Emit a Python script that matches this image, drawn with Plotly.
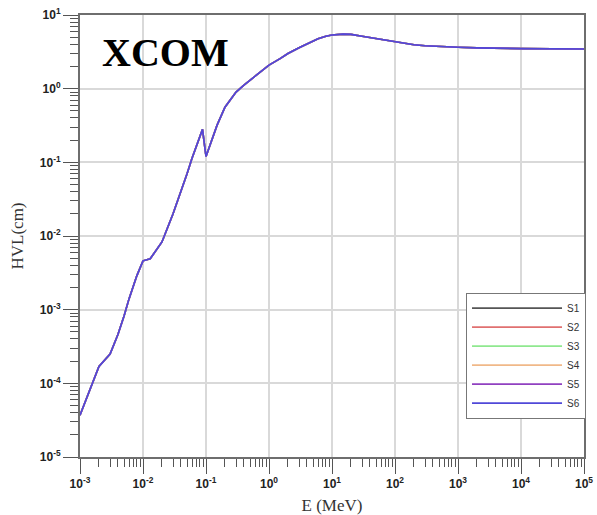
import plotly.graph_objects as go

# Photon energy (MeV)
energy = [1e-3, 1.5e-3, 2e-3, 3e-3, 4e-3, 5e-3, 6e-3, 8e-3, 1e-2, 1.3e-2, 1.52e-2,
          1.59e-2, 2e-2, 3e-2, 4e-2, 5e-2, 6e-2, 8e-2, 0.088, 0.1, 0.15, 0.2, 0.3,
          0.4, 0.5, 0.6, 0.8, 1, 1.5, 2, 3, 4, 5, 6, 8, 10, 15, 20, 30, 40, 50, 60,
          80, 100, 150, 200, 300, 400, 500, 600, 800, 1000, 2000, 5000, 1e4, 1e5]

# HVL (cm); all six samples overlap
hvl_s1 = [3.7e-5, 9.3e-5, 1.7e-4, 2.5e-4, 4.6e-4, 8.2e-4, 1.4e-3, 2.9e-3, 4.6e-3,
          4.9e-3, 6.0e-3, 6.3e-3, 8.3e-3, 2.0e-2, 4.0e-2, 7.0e-2, 0.114, 0.224,
          0.28, 0.12, 0.32, 0.56, 0.90, 1.12, 1.31, 1.48, 1.8, 2.09, 2.56, 3.0,
          3.6, 4.05, 4.45, 4.75, 5.15, 5.35, 5.5, 5.45, 5.15, 4.95, 4.78, 4.63,
          4.42, 4.26, 4.05, 3.95, 3.83, 3.77, 3.73, 3.70, 3.67, 3.65, 3.58, 3.52,
          3.50, 3.46]
hvl_s2 = list(hvl_s1)
hvl_s3 = list(hvl_s1)
hvl_s4 = list(hvl_s1)
hvl_s5 = list(hvl_s1)
hvl_s6 = list(hvl_s1)

series_names = ["S1", "S2", "S3", "S4", "S5", "S6"]
series_values = [hvl_s1, hvl_s2, hvl_s3, hvl_s4, hvl_s5, hvl_s6]
series_colors = ["#555555", "#e07070", "#8fe88f", "#f0b888", "#9040c0", "#5048d8"]

x_tickvals = [1e-3, 1e-2, 1e-1, 1, 10, 100, 1000, 1e4, 1e5]
x_ticktext = ["10<sup>-3</sup>", "10<sup>-2</sup>", "10<sup>-1</sup>", "10<sup>0</sup>",
              "10<sup>1</sup>", "10<sup>2</sup>", "10<sup>3</sup>", "10<sup>4</sup>",
              "10<sup>5</sup>"]
y_tickvals = [1e-5, 1e-4, 1e-3, 1e-2, 1e-1, 1, 10]
y_ticktext = ["10<sup>-5</sup>", "10<sup>-4</sup>", "10<sup>-3</sup>", "10<sup>-2</sup>",
              "10<sup>-1</sup>", "10<sup>0</sup>", "10<sup>1</sup>"]

fig = go.Figure()
for name, vals, col in zip(series_names, series_values, series_colors):
    fig.add_trace(go.Scatter(x=energy, y=vals, mode="lines", name=name,
                             line=dict(color=col, width=1.6)))

axis_common = dict(
    showline=True, linecolor="#6e6e6e", linewidth=2, mirror=True,
    showgrid=True, gridcolor="#d9d9d9", gridwidth=1.5,
    ticks="outside", ticklen=15, tickwidth=1.2, tickcolor="#555555",
    tickfont=dict(family="Arial, Liberation Sans", size=12, color="#222222", weight="bold"),
    minor=dict(ticks="outside", ticklen=8, tickwidth=1.2, tickcolor="#555555",
               dtick="D1", showgrid=False),
    zeroline=False, automargin=False,
)

fig.update_xaxes(type="log", range=[-3, 5], tickvals=x_tickvals, ticktext=x_ticktext,
                 title=dict(text="E (MeV)", standoff=9,
                            font=dict(family="Times New Roman, Liberation Serif", size=17,
                                      color="#333333")),
                 **axis_common)
fig.update_yaxes(type="log", range=[-5, 1], tickvals=y_tickvals, ticktext=y_ticktext,
                 title=dict(text="HVL(cm)", standoff=12,
                            font=dict(family="Times New Roman, Liberation Serif", size=17,
                                      color="#333333")),
                 **axis_common)

fig.add_annotation(text="<b>XCOM</b>", xref="paper", yref="paper", x=0.04, y=0.97,
                   xanchor="left", yanchor="top", showarrow=False,
                   font=dict(family="Times New Roman, Liberation Serif", size=40, color="#000000"))

fig.update_layout(
    width=597, height=515,
    margin=dict(l=80, r=11, t=15, b=58),
    paper_bgcolor="white", plot_bgcolor="white",
    showlegend=True,
    legend=dict(x=1.004, y=0.372, xanchor="right", yanchor="top",
                bgcolor="white", bordercolor="#777777", borderwidth=1,
                font=dict(family="Arial, Liberation Sans", size=10, color="#333333"),
                itemwidth=90, tracegroupgap=0),
)

fig.write_html("out.html")
